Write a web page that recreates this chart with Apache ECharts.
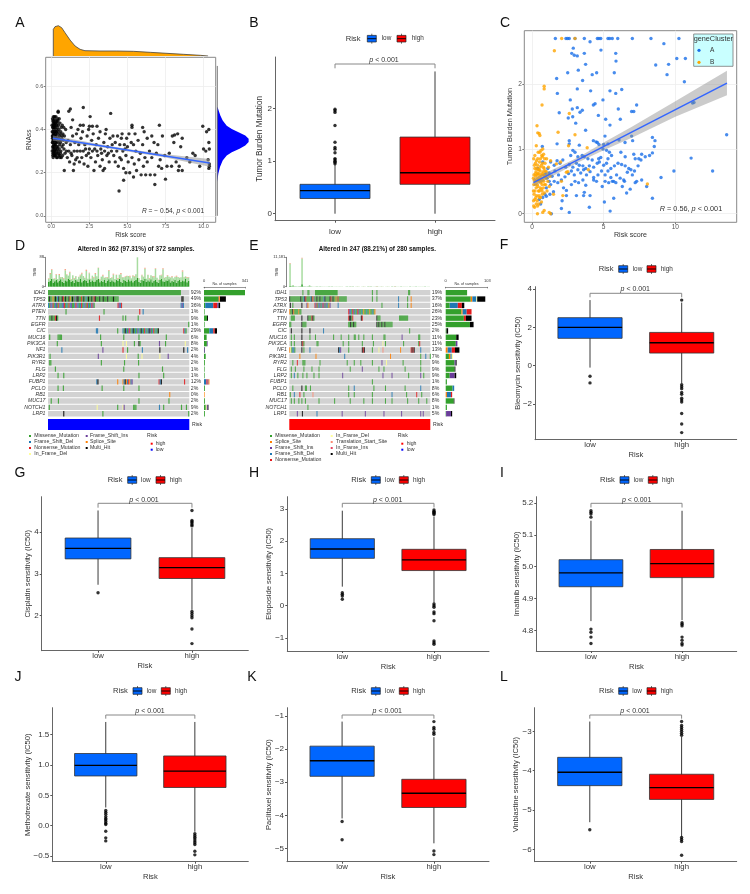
<!DOCTYPE html>
<html><head><meta charset="utf-8">
<style>html,body{margin:0;padding:0;background:#fff}#c{width:750px;height:894px}</style>
<script src="https://cdn.jsdelivr.net/npm/echarts@6/dist/echarts.min.js"></script>
</head><body><div id="c"></div>
<script>
/* ---------- DATA ---------- */
const riskGroups=['low','high'];
const pLabel='{i|p} < 0.001';

// boxplots: [whisker low, Q1, median, Q3, whisker high]
const tmbLow=[0,0.29,0.44,0.56,0.93], tmbHigh=[0,0.56,0.78,1.46,2.71];
const tmbOutLow=[0.95,0.98,1.0,1.03,1.05,1.16,1.23,1.26,1.36,1.68,1.93,1.96,1.99], tmbOutHigh=[];
const bleoLow=[-0.1,1.43,2.0,2.51,3.43], bleoHigh=[-0.92,0.66,1.2,1.74,3.3];
const bleoOutLow=[-0.55,-0.9], bleoOutHigh=[3.43,-1.0,-1.1,-1.2,-1.4,-1.5,-1.7,-1.8,-1.9,-2.5,-3.05,-3.5];
const cispLow=[2.74,3.36,3.61,3.86,4.52], cispHigh=[2.14,2.89,3.15,3.39,4.1];
const cispOutLow=[2.55], cispOutHigh=[4.52,4.28,4.25,4.22,4.18,4.15,2.1,2.05,2.0,1.95,1.68,1.33];
const etopLow=[0.59,1.47,1.76,2.08,2.95], etopHigh=[0.09,1.09,1.42,1.75,2.77];
const etopOutLow=[0.4,0.35,0.3,0.2], etopOutHigh=[2.97,2.93,2.9,2.87,2.83,0.05,0,-0.05,-0.2,-0.25,-0.47,-1.1,-1.15,-1.2];
const imatLow=[4.83,4.9375,4.981,5.022,5.144], imatHigh=[4.833,4.966,5.01,5.054,5.175];
const imatOutLow=[5.175,5.17,5.165,5.155,4.805,4.795,4.78,4.76], imatOutHigh=[4.825,4.82,4.815,4.78,4.77,4.76,4.755];
const metoLow=[0.30,0.82,0.995,1.19,1.71], metoHigh=[-0.1,0.63,0.9,1.15,1.71];
const metoOutLow=[0.25,0.22,0.19,0.15,0.12,0.1,0.07,0.04,0.02,-0.09,-0.2,-0.25], metoOutHigh=[-0.13,-0.16,-0.19,-0.22,-0.25,-0.28,-0.31,-0.42,-0.48];
const paclLow=[-4.09,-2.82,-2.35,-1.91,-1.17], paclHigh=[-4.84,-3.76,-3.33,-2.91,-1.64];
const paclOutLow=[-4.18,-4.73], paclOutHigh=[-1.17,-1.35,-1.4,-1.5,-1.55,-5.07,-5.18];
const vinbLow=[-5.31,-4.38,-4.04,-3.66,-2.75], vinbHigh=[-5.68,-4.73,-4.43,-4.09,-3.14];
const vinbOutLow=[-5.5], vinbOutHigh=[-2.75,-2.85,-2.9,-2.95,-3.0,-3.05,-3.1,-5.7,-5.75,-5.8,-6.15];

// panel A
const rnaTopDensity=[[0.13,0],[0.13,.8],[0.24,.88],[0.46,.91],[0.68,.85],[0.9,.70],[1.23,.48],[1.56,.30],[1.89,.20],[2.21,.16],[3.2,.15],[4.3,.15],[5.4,.14],[6.5,.11],[7.6,.08],[8.7,.05],[9.8,.02],[10.3,0]];
const rnaSideDensity=[[0,.503],[.01,.503],[.04,.488],[.09,.465],[.16,.442],[.28,.418],[.43,.403],[.63,.388],[.83,.372],[.93,.357],[.93,.342],[.83,.326],[.66,.311],[.43,.295],[.28,.28],[.16,.257],[.08,.226],[.03,.195],[0,.157]];
const rnaFit=[[0.1,0.36],[10.4,0.245]];
const rnaBand=[[0.1,0.372],[3,0.334],[5,0.31],[7.5,0.285],[10.4,0.263],[10.4,0.227],[7.5,0.27],[5,0.298],[3,0.322],[0.1,0.348]];
const rnaPoints=[
[0.08,0.36],[0.12,0.41],[0.15,0.33],[0.1,0.44],[0.18,0.38],[0.22,0.3],[0.09,0.28],[0.14,0.46],[0.25,0.42],[0.3,0.35],[0.06,0.39],[0.11,0.31],[0.2,0.45],[0.27,0.28],[0.33,0.4],[0.16,0.29],[0.07,0.34],[0.24,0.37],[0.13,0.43],[0.35,0.32],
[0.19,0.41],[0.28,0.44],[0.1,0.37],[0.4,0.38],[0.05,0.42],[0.17,0.35],[0.31,0.3],[0.23,0.33],[0.38,0.43],[0.12,0.27],[0.42,0.34],[0.26,0.39],[0.09,0.32],[0.34,0.27],[0.21,0.46],[0.15,0.4],[0.45,0.29],[0.37,0.36],[0.08,0.45],[0.29,0.31],
[0.14,0.36],[0.5,0.4],[0.18,0.28],[0.44,0.44],[0.11,0.39],[0.32,0.37],[0.25,0.34],[0.52,0.31],[0.16,0.44],[0.06,0.3],[0.39,0.41],[0.2,0.32],[0.48,0.36],[0.13,0.38],[0.27,0.43],[0.55,0.28],[0.1,0.34],[0.36,0.29],[0.23,0.41],[0.58,0.38],
[0.17,0.42],[0.43,0.32],[0.3,0.46],[0.07,0.37],[0.6,0.34],[0.22,0.36],[0.47,0.42],[0.12,0.35],[0.34,0.39],[0.63,0.3],[0.19,0.31],[0.53,0.37],[0.26,0.28],[0.41,0.45],[0.65,0.41],[0.15,0.3],[0.57,0.43],[0.09,0.41],[0.68,0.36],[0.28,0.33],
[0.46,0.3],[0.7,0.32],[0.33,0.42],[0.62,0.39],[0.21,0.39],[0.74,0.28],[0.5,0.35],[0.38,0.31],[0.76,0.38],[0.14,0.42],[0.55,0.33],[0.8,0.35],[0.29,0.38],[0.66,0.27],[0.44,0.39],[0.83,0.31],[0.24,0.29],[0.72,0.42],[0.6,0.29],[0.86,0.37],
[0.16,0.37],[0.4,0.27],[0.52,0.45],[0.78,0.33],[0.9,0.29],[0.31,0.34],[0.11,0.29],[0.64,0.35],[0.94,0.4],[0.48,0.28],[0.2,0.43],[0.7,0.37],[0.36,0.44],[0.98,0.34],[0.13,0.32],[0.57,0.27],[0.82,0.41],[0.27,0.36],[1.0,0.3],[0.45,0.48],
[0.45,0.485],[1.25,0.495],[1.15,0.485],[2.1,0.502],[2.55,0.46],[3.9,0.475],[1.4,0.445],[7.1,0.42],[6.0,0.41],[5.3,0.42],[5.3,0.41],[3.0,0.415],[2.5,0.415],[2.7,0.415],[2.1,0.42],[1.9,0.42],[9.95,0.415],[10.35,0.4],[10.2,0.39],[8.3,0.38],[7.95,0.37],[8.1,0.375],[8.6,0.36],[4.45,0.115],[6.8,0.145],[4.75,0.165],[7.5,0.17],[5.4,0.18],
[0.85,0.21],[1.45,0.21],[1.05,0.27],[1.2,0.25],[1.35,0.28],[1.5,0.24],[1.6,0.26],[1.7,0.3],[1.85,0.25],[2.0,0.27],[2.15,0.24],[2.3,0.28],[2.4,0.23],[2.6,0.27],[2.8,0.21],[2.9,0.25],[3.05,0.28],[3.2,0.23],[3.35,0.26],[3.5,0.22],[3.65,0.28],[3.8,0.25],[3.4,0.21],
[1.1,0.35],[1.25,0.33],[1.4,0.37],[1.55,0.34],[1.65,0.38],[1.8,0.33],[1.95,0.36],[2.05,0.39],[2.2,0.33],[2.35,0.37],[2.5,0.31],[2.65,0.35],[2.75,0.38],[2.95,0.33],[3.1,0.36],[3.25,0.31],[3.45,0.34],[3.55,0.38],[3.7,0.32],[3.85,0.36],[4.0,0.33],[3.6,0.4],[3.2,0.39],[2.45,0.4],[1.75,0.4],[1.3,0.41],
[1.15,0.3],[1.3,0.29],[1.5,0.3],[1.7,0.27],[1.9,0.3],[2.1,0.3],[2.25,0.31],[2.45,0.29],[2.7,0.3],[2.85,0.31],[3.0,0.3],[3.3,0.29],[3.5,0.3],[3.75,0.29],[3.95,0.3],[4.1,0.28],[4.3,0.3],[4.5,0.27],[4.7,0.3],[4.9,0.28],
[4.05,0.37],[4.2,0.34],[4.35,0.37],[4.5,0.33],[4.65,0.38],[4.8,0.33],[4.95,0.36],[5.1,0.38],[5.25,0.34],[4.6,0.36],[4.85,0.31],[5.0,0.32],[4.2,0.25],[4.4,0.23],[4.6,0.26],[4.75,0.22],[4.9,0.2],[5.05,0.25],[5.15,0.2],[5.3,0.27],[5.45,0.24],[5.6,0.21],[5.75,0.26],[5.9,0.19],[6.05,0.23],[6.2,0.19],
[5.4,0.33],[5.55,0.3],[5.7,0.35],[5.85,0.29],[6.0,0.33],[6.15,0.27],[6.3,0.36],[6.45,0.3],[6.6,0.27],[6.75,0.34],[6.9,0.29],[7.0,0.33],[7.15,0.26],[7.3,0.37],[7.45,0.28],[7.6,0.23],[7.75,0.29],[7.9,0.23],[8.05,0.34],[8.2,0.25],[8.35,0.21],[8.5,0.32],[8.6,0.21],[6.3,0.25],[6.5,0.19],[6.8,0.19],[7.05,0.23],[7.25,0.22],[6.1,0.39],[6.6,0.37],[5.5,0.38],
[8.9,0.27],[9.1,0.25],[9.3,0.29],[9.45,0.28],[9.75,0.23],[10.0,0.31],[10.15,0.3],[10.35,0.34],[10.38,0.31],[10.3,0.26],[10.38,0.24],[10.38,0.23],[10.35,0.22],[8.4,0.23]
];

// panel C
const tmbFit=[[0.1,0.48],[13.6,2.02]];
const tmbBand=[[0.1,0.54],[2,0.74],[3.2,0.87],[5,1.1],[7,1.35],[10,1.74],[13.6,2.21],[13.6,1.83],[10,1.5],[7,1.18],[5,0.98],[3.2,0.79],[2,0.65],[0.1,0.42]];
const clusterA=[
[1.63,2.71],[2.37,2.71],[2.49,2.71],[2.6,2.71],[3.0,2.71],[3.65,2.71],[4.56,2.71],[4.67,2.71],[4.8,2.71],[5.3,2.71],[5.42,2.71],[5.6,2.71],[5.98,2.71],[7.0,2.71],[8.3,2.71],[10.25,2.71],
[4.05,2.66],[9.2,2.63],[2.88,2.56],[4.81,2.53],[2.77,2.48],[3.65,2.48],[5.84,2.48],[2.95,2.45],[3.16,2.44],[5.86,2.36],[3.74,2.31],[8.63,2.3],[9.53,2.31],[10.1,2.4],[10.7,2.4],[3.23,2.22],[2.49,2.18],[5.74,2.18],[4.51,2.18],[4.2,2.15],[9.42,2.15],[1.72,2.09],[3.53,2.06],[10.63,2.04],[3.16,1.93],[6.26,1.92],[5.44,1.9],[4.09,1.9],[5.84,1.86],[1.77,1.86],[2.67,1.76],[4.95,1.76],[4.4,1.7],[4.28,1.68],[7.3,1.68],[11.2,1.71],[11.3,1.72],[2.81,1.62],[3.16,1.64],[3.51,1.6],[3.35,1.57],[6.02,1.62],[1.9,1.56],[6.95,1.58],[7.1,1.58],[2.53,1.48],[2.84,1.5],[4.63,1.52],[5.14,1.46],[6.16,1.46],[3.05,1.4],[5.44,1.37],[3.74,1.29],[5.09,1.2],[6.95,1.2],[8.4,1.18],[13.58,1.22],[2.6,1.13],[4.28,1.13],[4.47,1.11],[4.56,1.1],[4.67,1.07],[6.07,1.14],[6.49,1.1],[7.02,1.13],[8.58,1.13],[3.3,1.06],[0.72,1.04],[8.53,1.04],[8.4,0.94],
[1.75,1.08],[2.6,1.08],[5.0,1.07],[5.3,1.08],[2.7,0.9],[2.85,0.98],[3.0,0.95],[3.2,0.88],[3.5,0.9],[3.65,0.88],[3.9,0.85],[4.2,0.83],[4.65,0.85],[4.8,0.87],[4.95,1.0],[5.2,0.98],[5.4,0.95],[5.55,0.9],[5.3,0.85],[6.2,0.95],[6.5,0.88],[7.1,0.92],[7.2,0.85],[7.45,0.85],[7.65,0.92],[7.6,0.83],[7.9,0.88],[8.2,0.9],[11.1,0.86],
[1.1,0.7],[1.3,0.8],[1.55,0.75],[1.75,0.82],[1.95,0.78],[2.15,0.83],[2.35,0.72],[2.6,0.76],[2.85,0.72],[3.1,0.78],[3.3,0.75],[3.55,0.74],[3.75,0.7],[4.0,0.74],[4.3,0.72],[4.55,0.78],[4.7,0.8],[5.0,0.75],[5.2,0.78],[5.5,0.7],[5.75,0.74],[6.0,0.78],[6.25,0.76],[6.5,0.74],[6.75,0.7],[6.9,0.68],[7.15,0.66],[7.4,0.74],
[1.2,0.63],[1.4,0.58],[1.6,0.66],[1.85,0.6],[2.05,0.52],[2.3,0.57],[2.55,0.62],[2.75,0.66],[2.95,0.6],[3.2,0.68],[3.4,0.63],[3.6,0.68],[3.8,0.6],[4.05,0.65],[4.3,0.56],[4.6,0.6],[4.85,0.66],[5.1,0.6],[5.3,0.66],[5.5,0.56],[5.7,0.5],[5.9,0.6],[6.15,0.55],[6.4,0.52],[6.65,0.64],[7.0,0.6],[7.3,0.5],[7.65,0.52],[9.9,0.66],[12.6,0.66],[9.0,0.56],[8.0,0.42],
[1.05,0.55],[1.3,0.45],[1.55,0.5],[1.8,0.48],[2.2,0.4],[2.4,0.36],[2.75,0.45],[3.0,0.5],[3.25,0.48],[3.55,0.52],[3.75,0.44],[4.3,0.52],[4.5,0.5],[4.9,0.42],[5.1,0.5],[5.35,0.48],[5.6,0.5],[5.85,0.48],[6.3,0.42],[6.45,0.5],[6.6,0.32],[6.85,0.38],[7.2,0.48],
[1.25,0.3],[1.0,0.27],[1.5,0.34],[2.1,0.2],[2.4,0.28],[3.1,0.28],[3.6,0.28],[3.65,0.33],[4.05,0.28],[5.7,0.24],[8.4,0.24],[5.05,0.18],[2.05,0.08],[2.6,0.02],[4.0,0.1],[5.45,0.04],[1.35,0.0],[0.6,0.15],[0.9,0.3],[0.75,0.25],[0.5,0.22],[1.2,0.5],[0.95,0.62],[1.0,0.4],[0.75,0.8],[0.4,0.7]
];
const clusterB=[
[2.07,2.71],[3.0,2.71],[1.56,2.52],[0.85,1.97],[0.85,1.93],[0.7,1.68],[0.35,1.36],[0.4,1.25],[0.5,1.24],[0.55,1.21],[1.82,1.26],[2.6,1.55],[3.0,1.22],[2.55,1.05],[0.3,1.05],[3.85,1.02],[8.05,0.46],[3.93,0.68],[2.5,0.65],[1.7,0.77],[2.0,0.8],[2.05,0.5],[2.15,0.28],[1.5,0.3],[1.2,0.02],[1.3,0.0],[0.38,0.0],[0.85,0.05],[0.75,0.02],[2.4,0.64],
[0.1,0.55],[0.15,0.3],[0.2,0.7],[0.25,0.45],[0.3,0.15],[0.35,0.6],[0.4,0.85],[0.45,0.35],[0.5,0.5],[0.55,0.95],[0.6,0.25],[0.65,0.75],[0.7,0.45],[0.75,1.0],[0.12,0.85],[0.18,0.1],[0.22,0.5],[0.28,0.65],[0.33,0.28],[0.38,0.75],[0.42,0.55],[0.48,0.15],[0.52,0.8],[0.58,0.4],[0.62,0.6],[0.68,0.9],[0.72,0.3],[0.78,0.65],[0.82,0.5],[0.88,0.85],
[0.1,0.35],[0.14,0.6],[0.19,0.22],[0.24,0.78],[0.29,0.4],[0.34,0.5],[0.39,0.12],[0.44,0.68],[0.49,0.28],[0.54,0.58],[0.59,0.85],[0.64,0.38],[0.69,0.55],[0.74,0.78],[0.79,0.4],[0.84,0.7],[0.9,0.58],[0.95,0.45],[1.0,0.65],[1.05,0.35],[1.1,0.5],[1.15,0.72],[1.2,0.42],[1.25,0.58],[1.3,0.82],[0.13,0.45],[0.17,0.75],[0.21,0.35],[0.26,0.58],[0.31,0.82],
[0.36,0.2],[0.41,0.42],[0.46,0.62],[0.51,0.35],[0.56,0.72],[0.61,0.48],[0.66,0.18],[0.71,0.62],[0.76,0.52],[0.81,0.92],[0.86,0.32],[0.91,0.78],[0.96,0.55],[1.02,0.85],[0.11,0.2],[0.16,0.52],[0.2,0.9],[0.27,0.25],[0.32,0.7],[0.37,0.45],[0.43,0.95],[0.47,0.52],[0.53,0.25],[0.57,0.66],[0.63,0.98],[0.67,0.5],[0.73,0.88],[0.77,0.6],[0.83,0.6],[0.87,0.45],[0.12,0.12],[0.23,0.62],[0.3,0.52],[0.4,0.62],[0.5,0.68],[0.6,0.53],[0.7,0.35],[0.8,0.72],[0.92,0.66],[1.08,0.6]
];

// oncoplots: rows
const genesD=['IDH1','TP53','ATRX','PTEN','TTN','EGFR','CIC','MUC16','PIK3CA','NF1','PIK3R1','RYR2','FLG','LRP2','FUBP1','PCLO','RB1','MUC17','NOTCH1','LRP1'];
const pctD=['92%','49%','36%','1%','9%','1%','29%','6%','8%','2%','4%','2%','1%','1%','12%','2%','0%','2%','9%','2%'];
const genesE=['IDH1','TP53','ATRX','PTEN','TTN','EGFR','CIC','MUC16','PIK3CA','NF1','PIK3R1','RYR2','FLG','LRP2','FUBP1','PCLO','RB1','MUC17','NOTCH1','LRP1'];
const pctE=['19%','37%','16%','26%','23%','25%','2%','11%','11%','13%','7%','9%','9%','9%','1%','8%','6%','8%','1%','5%'];
const mutationTypes={M:'#33a02c',F:'#1f78b4',N:'#e31a1c',I:'#ffff99',P:'#6a3d9a',S:'#ff7f00',K:'#000000',T:'#fb8a72',R:'#e7435e'};
// [row, first sample, mutation string: one letter per stripe]
const mutD=[
[1,0,'MKMMSMKMFKMMKNMKMMKSMKMPMKKMMNMKMFMKMMKMNKMMMKMMKMMMKMMMMKMMMM'],[1,351,'KK'],
[2,0,'FMPFNMFPMNFMFPNMFMNFPMMFNPFMFNMFPMNFMFNPM'],[2,183,'NPFN'],[2,349,'FPF'],
[3,46,'M'],[3,146,'M'],[3,240,'N'],[3,249,'F'],
[4,3,'MMKMMNKM'],[4,134,'N'],[4,196,'M'],[4,203,'M'],[4,236,'M'],
[5,369,'M'],
[6,126,'FF'],[6,182,'M'],[6,196,'FMKFMPNMFKMFMPFMKFMNFMFKPMFNMFMK'],[6,356,'NFM'],
[7,3,'M'],[7,25,'MMMM'],[7,137,'M'],[7,198,'M'],[7,238,'M'],[7,310,'M'],
[8,23,'M'],[8,139,'M'],[8,196,'I'],[8,205,'I'],[8,226,'M'],[8,238,'KM'],[8,292,'P'],[8,308,'M'],[8,360,'I'],
[9,35,'F'],[9,143,'P'],[9,196,'N'],[9,208,'M'],[9,247,'F'],[9,293,'K'],[9,356,'K'],[9,366,'F'],
[10,4,'M'],[10,131,'P'],[10,205,'I'],[10,236,'M'],[10,246,'I'],[10,293,'I'],[10,315,'P'],
[11,3,'MM'],[11,139,'M'],[11,200,'M'],[11,237,'M'],
[12,18,'M'],[12,198,'M'],[12,300,'M'],
[13,25,'M'],[13,40,'M'],[13,238,'M'],[13,303,'M'],
[14,127,'FK'],[14,182,'S'],[14,196,'SFKSFNSFP'],[14,291,'NFK'],[14,358,'N'],
[15,25,'M'],[15,39,'M'],[15,141,'M'],[15,198,'M'],[15,238,'M'],
[16,319,'S'],
[17,7,'M'],[17,26,'M'],[17,238,'M'],[17,317,'M'],
[18,2,'M'],[18,128,'I'],[18,182,'M'],[18,196,'IP'],[18,224,'MMM'],[18,292,'F'],[18,303,'M'],[18,350,'M'],[18,363,'M'],
[19,40,'K'],[19,143,'M'],[19,369,'M']
];
const spanD=[[0,0,350,'M']];
const mutE=[
[0,26,'M'],[0,36,'MM'],[0,164,'M'],[0,173,'M'],[0,236,'MM'],
[1,0,'KMMMMMMMMMMKMMFKNMMMMFKSPMMKMMKMMMFKMMMMKNMKMMSMNMMMMMMMM'],[1,164,'M'],[1,173,'M'],[1,216,'F'],[1,234,'M'],[1,241,'S'],
[2,1,'K'],[2,6,'M'],[2,24,'K'],[2,34,'PS'],[2,50,'NFNMFPMFNPMPFMSP'],[2,96,'F'],[2,183,'M'],[2,216,'F'],[2,234,'M'],[2,241,'S'],
[3,0,'SMMKSMMMMSMM'],[3,117,'NPFMNPMFMNPMMFMSMMFMMSMMFMS'],
[4,3,'MMMM'],[4,24,'K'],[4,36,'KMMMNKM'],[4,117,'NKKMN'],[4,142,'KN'],[4,173,'KMMM'],[4,218,'MMMMMMMMM'],
[5,0,'MM'],[5,24,'K'],[5,26,'MMMM'],[5,117,'MMKMMKMM'],[5,173,'KMKMMKMMKMMMMMMM'],
[6,3,'K'],[6,24,'K'],[6,40,'K'],[6,67,'F'],[6,238,'M'],
[7,3,'M'],[7,9,'M'],[7,24,'K'],[7,40,'M'],[7,51,'M'],[7,87,'M'],[7,102,'M'],[7,117,'M'],[7,128,'MM'],[7,137,'M'],[7,147,'M'],[7,164,'M'],[7,187,'MM'],[7,223,'P'],[7,256,'MM'],
[8,3,'M'],[8,9,'M'],[8,24,'KNM'],[8,54,'MM'],[8,106,'M'],[8,117,'M'],[8,144,'M'],[8,166,'M'],[8,185,'I'],[8,190,'M'],[8,226,'M'],[8,256,'MN'],
[9,0,'SIMFFM'],[9,24,'K'],[9,28,'M'],[9,40,'F'],[9,97,'KFP'],[9,117,'M'],[9,144,'KNK'],[9,164,'M'],[9,177,'I'],[9,185,'T'],[9,220,'S'],[9,241,'NKNK'],[9,260,'F'],
[10,20,'S'],[10,52,'S'],[10,109,'F'],[10,200,'S'],[10,260,'M'],[10,270,'F'],[10,279,'M'],
[11,6,'M'],[11,15,'N'],[11,26,'MMM'],[11,60,'M'],[11,114,'M'],[11,128,'M'],[11,141,'M'],[11,164,'M'],[11,183,'P'],[11,192,'I'],[11,225,'M'],[11,260,'M'],
[12,3,'M'],[12,11,'M'],[12,28,'M'],[12,44,'M'],[12,58,'M'],[12,120,'M'],[12,144,'P'],[12,177,'M'],[12,187,'M'],[12,229,'M'],[12,260,'M'],
[13,3,'M'],[13,9,'F'],[13,16,'M'],[13,26,'M'],[13,34,'M'],[13,48,'M'],[13,58,'M'],[13,105,'P'],[13,185,'P'],[13,203,'P'],[13,236,'M'],[13,260,'P'],[13,266,'M'],
[14,164,'M'],
[15,6,'M'],[15,24,'K'],[15,31,'MM'],[15,41,'M'],[15,117,'M'],[15,128,'F'],[15,167,'M'],[15,190,'M'],[15,229,'M'],[15,260,'F'],
[16,1,'M'],[16,9,'F'],[16,20,'N'],[16,28,'M'],[16,46,'T'],[16,117,'M'],[16,128,'M'],[16,164,'M'],[16,203,'F'],[16,232,'M'],[16,252,'N'],[16,262,'M'],
[17,3,'M'],[17,9,'M'],[17,18,'M'],[17,24,'M'],[17,31,'M'],[17,58,'M'],[17,89,'M'],[17,120,'M'],[17,147,'M'],[17,164,'M'],[17,190,'M'],[17,203,'M'],[17,234,'M'],[17,256,'M'],[17,272,'M'],
[18,36,'M'],
[19,15,'P'],[19,25,'K'],[19,54,'F'],[19,104,'P'],[19,150,'P'],[19,187,'P'],[19,222,'P'],[19,260,'P'],[19,265,'P']
];
const spanE=[[0,51,96,'M']];
// side bars: [row, type, count, type, count ...]
const sideD=[[0,'M',341],[1,'M',122,'N',5,'S',6,'K',49],[2,'M',10,'F',67,'N',33,'P',11,'K',13],[3,'M',3],[4,'M',25,'K',8],[5,'M',3],[6,'M',44,'F',33,'N',13,'K',18],[7,'M',22],[8,'M',24,'P',6],[9,'M',2,'P',6],[10,'M',14],[11,'M',7],[12,'M',5],[13,'M',4],[14,'F',20,'N',10,'P',8,'S',7],[15,'M',7],[16,'S',1],[17,'M',7],[18,'M',15,'I',8,'P',9,'K',3],[19,'M',7]];
const sideE=[[0,'M',53],[1,'M',62,'S',4,'F',10,'I',2,'K',20],[2,'M',10,'F',20,'N',10,'K',6],[3,'M',39,'S',3,'F',10,'N',12],[4,'M',45,'N',5,'K',14],[5,'M',60,'K',9],[6,'M',2,'K',4],[7,'M',26,'K',6],[8,'M',25,'P',4],[9,'S',5,'F',10,'N',8,'K',11],[10,'M',8,'S',4,'F',3,'I',3],[11,'M',22,'P',3,'K',2],[12,'M',22,'K',2],[13,'M',10,'P',12,'K',4],[14,'M',3],[15,'M',17,'F',4],[16,'S',3,'F',10,'N',3],[17,'M',20,'K',1],[18,'M',3],[19,'M',1,'P',12,'K',3]];
// mutation burden columns
const tmbBaseD=[14,18,24,12,16,20,13,17,22,15,11,19,16,23,20,14,18,12,21,16,15,24,13,18,20,17,12,22,15,19,14,16,21,24,13,18,15,20,12,17,22,14,19,16,13,21,18,24,15,12,20,17,14,22,16,19,13,18,21,26,15,12,20,17,24,14,19,16,22,13,18,21,15,12,20,24,16,14,19,17,22,13,18,15,21,12,17,20,14,19,16,23,13,18];
const tmbTopD=[10,20,26,12,8,16,10,18,6,14,12,30,20,10,22,8,16,12,10,6,14,10,26,14,6,30,12,18,8,14,12,22,10,32,8,12,18,6,16,10,26,12,8,20,10,14,6,12,22,16,8,12,18,10,14,6,20,12,16,62,10,8,14,12,30,10,16,8,12,18,10,32,12,8,14,10,36,12,10,16,8,14,12,10,8,18,12,6,14,26,12,8,14,10];
const tmbTipD=[1,3,2,0,1,2,0,3,1,0,2,4,1,0,3,1,0,2,1,0,1,2,3,0,1,4,0,2,1,0,2,3,0,1,1,0,3,1,0,2,2,0,1,3,0,1,2,0,4,1,0,2,1,0,3,0,1,2,0,0,1,0,2,1,3,0,1,2,0,1,3,2,0,1,0,2,3,1,0,2,0,1,2,0,1,3,0,1,0,4,1,0,2,1];
const tmbBaseE=[400,120,160,80,60,40,60,90,900,80,60,40,30,140,50,30,20,40,30,20,30,40,20,30,20,30,40,20,30,20,10,30,20,40,20,30,10,20,30,20,40,20,30,10,20,30,20,10,20,30,20,10,30,20,40,20,10,20,30,20,10,30,20,10,20,30,20,10,30,20,40,20,10,20,30,10,20,30,20,10,30,20,10,20,30,10,20,30,10,20,30,10,20,30];
const tmbTopE=[8300,200,500,60,40,30,50,120,9800,60,30,30,20,420,30,20,10,20,20,30,20,10,40,20,30,10,20,40,20,10,20,30,10,20,60,20,10,30,20,10,30,50,20,10,30,60,20,10,30,60,20,10,40,70,30,10,20,50,60,30,20,60,40,10,30,50,30,10,40,20,60,30,20,10,30,40,20,10,30,20,40,10,20,30,10,40,20,10,30,20,10,30,20,10];
const tmbTipE=[300,0,0,0,0,0,0,0,280,0,0,0,0,0,0,0,0,0,0,0,0,0,0,0,0,0,0,0,0,0,0,0,0,0,20,0,0,0,0,0,0,30,0,0,0,40,0,0,0,40,0,0,0,40,0,0,0,30,40,0,0,40,20,0,0,30,0,0,20,0,30,0,0,0,0,20,0,0,0,0,20,0,0,0,0,0,0,0,0,0,0,0,0,0];

/* ---------- LAYOUT HELPERS ---------- */
const FONT='"Liberation Sans",Arial,sans-serif', INK='#333', BLUE='#0066ff', RED='#ff0000';
const grids=[],xAxes=[],yAxes=[],series=[],gfx=[];
function addGrid(b,xa,ya,extra){const i=grids.length;
 grids.push(Object.assign({left:b[0],top:b[2],width:b[1]-b[0],height:b[3]-b[2],outerBoundsMode:'none',containLabel:false},extra||{}));
 xAxes.push(Object.assign({gridIndex:i},xa));yAxes.push(Object.assign({gridIndex:i},ya));return i;}
const hidden=(o)=>Object.assign({type:'value',show:false},o);
function text(x,y,t,o){gfx.push({type:'text',x,y,silent:true,z:50,style:Object.assign({text:t,fill:INK,font:'9px '+FONT,align:'left',verticalAlign:'middle'},o||{})});}
const richI=(f,col)=>({fontStyle:'italic',font:'italic '+f+'px '+FONT,fill:col||INK});
'ABCDEFGHIJKL'.split('').forEach((l,i)=>{const pos=[[20,23],[254,23],[505,23],[20,246],[254,246],[504,245],[20,473],[254,473],[502,473],[18,677],[252,677],[504,677]][i];
 text(pos[0],pos[1],l,{font:'14px '+FONT,fill:'#111',align:'center'});});

/* ---------- BOX PANELS ---------- */
function boxRender(params,api){
 const x=api.value(0),wl=api.value(1),q1=api.value(2),m=api.value(3),q3=api.value(4),wh=api.value(5);
 const c=(a,b)=>api.coord([a,b]);
 const L=c(x-0.35,q3),R=c(x+0.35,q1),M=c(x,m),tl=c(x,wh),bl=c(x,wl);
 const fill=x===1?BLUE:RED;
 return {type:'group',children:[
  {type:'line',shape:{x1:tl[0],y1:tl[1],x2:bl[0],y2:bl[1]},style:{stroke:'#3a3a3a',lineWidth:1}},
  {type:'rect',shape:{x:L[0],y:L[1],width:R[0]-L[0],height:R[1]-L[1]},style:{fill,stroke:'#333',lineWidth:0.8}},
  {type:'line',shape:{x1:L[0],y1:M[1],x2:R[0],y2:M[1]},style:{stroke:'#000',lineWidth:1.3}}
 ]};
}
const boxPanels=[
 {box:[275,495,57,220.7],range:[-0.133,2.985],ticks:[0,1,2],dec:0,yName:'Tumor Burden Mutation',gap:15,nf:8.2,low:tmbLow,high:tmbHigh,oL:tmbOutLow,oH:tmbOutHigh,br:[64,68.3],lab:[384,60],leg:[38.7,345.7,367.3,381.7,397,411.7],xName:false,lm:7,fs:8},
 {box:[535,736.7,286.7,439.7],range:[-3.87,4.13],ticks:[-2,0,2,4],dec:0,yName:'Bleomycin sensitivity (IC50)',gap:16.7,low:bleoLow,high:bleoHigh,oL:bleoOutLow,oH:bleoOutHigh,br:[293.3,297.3],lab:[635.3,289.3],leg:[269,598.7,618.7,632.7,647,660.7]},
 {box:[41.7,248.3,496.7,650.7],range:[1.16,4.85],ticks:[2,3,4],dec:0,yName:'Cisplatin sensitivity (IC50)',gap:14,low:cispLow,high:cispHigh,oL:cispOutLow,oH:cispOutHigh,br:[503.3,507.7],lab:[144,500],leg:[480,107.7,127.7,141,156,169.7]},
 {box:[287.3,489,496.7,651],range:[-1.41,3.385],ticks:[-1,0,1,2,3],dec:0,yName:'Etoposide sensitivity (IC50)',gap:18,low:etopLow,high:etopHigh,oL:etopOutLow,oH:etopOutHigh,br:[503.3,507.5],lab:[387.7,500],leg:[480,351.3,371.3,385,399.3,413]},
 {box:[536.3,736.7,496.7,651],range:[4.7366,5.219],ticks:[4.8,4.9,5.0,5.1,5.2],dec:1,yName:'Imatinib sensitivity (IC50)',gap:19.6,low:imatLow,high:imatHigh,oL:imatOutLow,oH:imatOutHigh,br:[503.3,507.5],lab:[636.7,500],leg:[480,600,620,633.7,648.3,662]},
 {box:[52.3,248.3,707.7,861.7],range:[-0.593,1.945],ticks:[-0.5,0,0.5,1,1.5],dec:1,yName:'Methotrexate sensitivity (IC50)',gap:24.6,low:metoLow,high:metoHigh,oL:metoOutLow,oH:metoOutHigh,br:[715,718.7],lab:[150,711],leg:[691,113,133,146.7,161.3,175]},
 {box:[287,489,707.7,861.7],range:[-5.394,-0.751],ticks:[-5,-4,-3,-2,-1],dec:0,yName:'Paclitaxel sensitivity (IC50)',gap:18,low:paclLow,high:paclHigh,oL:paclOutLow,oH:paclOutHigh,br:[715,718.7],lab:[387.3,711],leg:[691,351.3,371.3,385,399.3,413]},
 {box:[534.7,736.7,707.7,861.7],range:[-6.314,-2.398],ticks:[-6,-5,-4,-3],dec:0,yName:'Vinblastine sensitivity (IC50)',gap:18.7,low:vinbLow,high:vinbHigh,oL:vinbOutLow,oH:vinbOutHigh,br:[715,718.7],lab:[635,711],leg:[691,599,618.7,632.3,647,660.7]}
];
const axisLine={show:true,onZero:false,lineStyle:{color:'#666',width:1}};
boxPanels.forEach(p=>{
 const [bl,br,bt,bb]=p.box,[ymin,ymax]=p.range;
 const toV=y=>ymin+(bb-y)/(bb-bt)*(ymax-ymin);
 const nf=p.nf||7.6;
 const i=addGrid(p.box,
  {type:'value',min:0.4,max:2.6,splitLine:{show:false},axisLine,
   axisTick:{show:true,customValues:[1,2],length:2,lineStyle:{color:'#555'}},
   axisLabel:{customValues:[1,2],formatter:v=>riskGroups[Math.round(v)-1],color:INK,fontFamily:FONT,fontSize:p.fs||7.8,margin:p.lm||1.5},
   name:p.xName===false?'':'Risk',nameMoveOverlap:false,nameLocation:'middle',nameGap:11.5,nameTextStyle:{color:INK,fontFamily:FONT,fontSize:7.6}},
  {type:'value',min:ymin,max:ymax,splitLine:{show:false},axisLine,
   axisTick:{show:true,customValues:p.ticks,length:2,lineStyle:{color:'#555'}},
   axisLabel:{customValues:p.ticks,formatter:v=>(+v).toFixed(p.dec).replace('-','\u2212'),color:INK,fontFamily:FONT,fontSize:8,margin:3},
   name:p.yName,nameMoveOverlap:false,nameLocation:'middle',nameGap:p.gap-nf/2,nameRotate:90,nameTextStyle:{color:INK,fontFamily:FONT,fontSize:nf}});
 series.push({type:'custom',xAxisIndex:i,yAxisIndex:i,renderItem:boxRender,clip:false,encode:{x:0,y:[1,2,3,4,5]},data:[[1,...p.low],[2,...p.high]],silent:true});
 series.push({type:'scatter',xAxisIndex:i,yAxisIndex:i,symbolSize:3.4,itemStyle:{color:'#000'},silent:true,
  data:[...p.oL.map(v=>[1,v]),...p.oH.map(v=>[2,v])]});
 series.push({type:'line',xAxisIndex:i,yAxisIndex:i,showSymbol:false,silent:true,lineStyle:{color:'#888',width:1},
  data:[[1,toV(p.br[1])],[1,toV(p.br[0])],[2,toV(p.br[0])],[2,toV(p.br[1])]]});
 text(p.lab[0],p.lab[1],pLabel,{align:'center',font:'7px '+FONT,rich:{i:richI(7)}});
 const [ly,rx,k1,tx1,k2,tx2]=p.leg;
 text(rx,ly,'Risk',{font:'7.6px '+FONT});
 [[k1,BLUE,tx1,'low'],[k2,RED,tx2,'high']].forEach(([k,col,tx,lab])=>{
  gfx.push({type:'line',silent:true,z:50,shape:{x1:k+4.5,y1:ly-5,x2:k+4.5,y2:ly+5},style:{stroke:'#333',lineWidth:0.7}});
  gfx.push({type:'rect',silent:true,z:50,shape:{x:k,y:ly-3.3,width:9,height:6.6},style:{fill:col,stroke:'#222',lineWidth:0.7}});
  gfx.push({type:'line',silent:true,z:50,shape:{x1:k,y1:ly,x2:k+9,y2:ly},style:{stroke:'#000',lineWidth:0.9}});
  text(tx,ly,lab,{font:'6.4px '+FONT});
 });
});

/* ---------- SCATTER PANELS ---------- */
function bwAxis(min,max,ticks,dec,name,gap,fs,nfs,isY){return {type:'value',min,max,
 splitLine:{show:true,lineStyle:{color:'#eeeeee',width:0.8}},axisLine:{show:false,onZero:false},
 axisTick:{show:true,customValues:ticks,length:2,lineStyle:{color:'#777'}},
 axisLabel:{customValues:ticks,formatter:v=>(+v).toFixed(dec),color:'#555',fontFamily:FONT,fontSize:fs,margin:isY?2.5:1.5},
 name,nameMoveOverlap:false,nameLocation:'middle',nameGap:gap,nameRotate:isY?90:0,nameTextStyle:{color:INK,fontFamily:FONT,fontSize:nfs}};}
function polygonSeries(i,pts,fill,extra){
 return Object.assign({type:'custom',xAxisIndex:i,yAxisIndex:i,silent:true,clip:true,encode:{x:0,y:1},data:[pts[0]],
  renderItem:(params,api)=>({type:'polygon',shape:{points:pts.map(p=>api.coord(p))},style:{fill,stroke:'none'}})},extra||{});
}
const boxA=[45.7,215.7,57.3,222.3],rangeAx=[-0.37,10.8],rangeAy=[-0.03,0.735];
const gA=addGrid(boxA,bwAxis(rangeAx[0],rangeAx[1],[0,2.5,5,7.5,10],1,'Risk score',9.5,5.5,6.6,false),bwAxis(rangeAy[0],rangeAy[1],[0,0.2,0.4,0.6],1,'RNAss',13.4,5.5,6.6,true),{show:true,borderColor:'#888',borderWidth:1,backgroundColor:'#fff'});
series.push({type:'scatter',xAxisIndex:gA,yAxisIndex:gA,symbolSize:3.4,itemStyle:{color:'#000'},silent:true,data:rnaPoints});
series.push(polygonSeries(gA,rnaBand,'rgba(150,150,150,0.55)',{z:3}));
series.push({type:'line',xAxisIndex:gA,yAxisIndex:gA,showSymbol:false,silent:true,z:4,lineStyle:{color:'#3366ff',width:1.6},data:rnaFit});
text(173,211,'{i|R} = \u2212 0.54, {i|p} < 0.001',{align:'center',font:'6.6px '+FONT,rich:{i:richI(6.6)}});
const gAt=addGrid([45.7,215.7,22.7,56],hidden({min:rangeAx[0],max:rangeAx[1]}),hidden({min:0,max:1}));
series.push({type:'line',xAxisIndex:gAt,yAxisIndex:gAt,showSymbol:false,silent:true,lineStyle:{color:'#444',width:0.8},areaStyle:{color:'#ffa500',opacity:1},data:rnaTopDensity});
const gAr=addGrid([217.3,251,57.3,222.3],hidden({min:0,max:1}),hidden({min:rangeAy[0],max:rangeAy[1]}));
series.push(polygonSeries(gAr,rnaSideDensity,'#0000ff'));
series.push({type:'line',xAxisIndex:gAr,yAxisIndex:gAr,showSymbol:false,silent:true,lineStyle:{color:'#555',width:0.8},data:[[0,0.0],[0,0.695]]});

const boxC=[524.3,736.7,30.7,222.3];
const gC=addGrid(boxC,bwAxis(-0.537,14.28,[0,5,10],0,'Risk score',9.5,6.6,7.1,false),bwAxis(-0.133,2.83,[0,1,2],0,'Tumor Burden Mutation',11.3,6.6,7.4,true),{show:true,borderColor:'#888',borderWidth:1,backgroundColor:'#fff'});
series.push({type:'scatter',xAxisIndex:gC,yAxisIndex:gC,symbolSize:3.4,itemStyle:{color:'#1a6fe8'},silent:true,data:clusterA});
series.push({type:'scatter',xAxisIndex:gC,yAxisIndex:gC,symbolSize:3.4,itemStyle:{color:'#ffa500'},silent:true,z:3,data:clusterB});
series.push(polygonSeries(gC,tmbBand,'rgba(140,140,140,0.45)',{z:4}));
series.push({type:'line',xAxisIndex:gC,yAxisIndex:gC,showSymbol:false,silent:true,z:5,lineStyle:{color:'#3366ff',width:1.5},data:tmbFit});
text(691,209,'{i|R} = 0.56, {i|p} < 0.001',{align:'center',font:'7.3px '+FONT,rich:{i:richI(7.3)}});
gfx.push({type:'rect',silent:true,z:49,shape:{x:693.7,y:34,width:39.3,height:32.3},style:{fill:'#c9ffff',stroke:'#777',lineWidth:0.8}});
text(713.3,38.5,'geneCluster',{font:'7.3px '+FONT,align:'center'});
[['A','#1a6fe8',50.3],['B','#ffa500',62.3]].forEach(([t,col,y])=>{
 gfx.push({type:'circle',silent:true,z:50,shape:{cx:699,cy:y,r:1.6},style:{fill:col}});
 text(710,y,t,{font:'6.5px '+FONT});
});

/* ---------- ONCOPLOTS ---------- */
const M_KEYS=Object.keys(mutationTypes);
function cellRender(op){return (params,api)=>{
 const a=api.coord([api.value(0),api.value(2)]),b=api.coord([api.value(1),api.value(2)]);
 const h=api.size([0,1])[1]-1;
 return {type:'rect',shape:{x:a[0],y:a[1]-h/2,width:Math.max(b[0]-a[0],0.6),height:h},style:{fill:mutationTypes[M_KEYS[api.value(3)]],opacity:op}};
};}
function oncoplot(o){
 const [l,r]=o.x;
 const gi=addGrid([l,r,289.5,416.9],hidden({min:0,max:o.n}),
  {type:'category',inverse:true,data:o.genes,axisLine:{show:false,onZero:false},axisTick:{show:false},splitLine:{show:false},
   axisLabel:{show:true,interval:0,fontStyle:'italic',fontFamily:FONT,fontSize:5.2,color:INK,margin:2.5}});
 yAxes[gi].show=true;
 const bg=addGrid([l,r,289.5,416.9],hidden({min:0,max:o.n}),
  {type:'category',position:'right',inverse:true,data:o.pct,axisLine:{show:false,onZero:false},axisTick:{show:false},
   axisLabel:{show:true,interval:0,fontFamily:FONT,fontSize:5.2,color:INK,margin:1.5}});
 const items=[];
 o.genes.forEach((g,row)=>series.push({type:'custom',xAxisIndex:gi,yAxisIndex:gi,silent:true,z:1,encode:{x:[0,1],y:2},renderItem:(params,api)=>{
   const a=api.coord([0,row]),b=api.coord([o.n,row]),h=api.size([0,1])[1]-1;
   return {type:'rect',shape:{x:a[0],y:a[1]-h/2,width:b[0]-a[0],height:h},style:{fill:'#d2d2d2'}};},data:[[0,o.n,row]]}));
 o.span.forEach(s=>items.push([s[1],s[2],s[0],M_KEYS.indexOf(s[3])]));
 o.mut.forEach(([row,start,str])=>[...str].forEach((ch,k)=>items.push([start+k*o.stripe,start+(k+1)*o.stripe,row,M_KEYS.indexOf(ch)])));
 series.push({type:'custom',xAxisIndex:gi,yAxisIndex:gi,silent:true,z:2,encode:{x:[0,1],y:2},renderItem:cellRender(0.85),data:items});

 // side bars
 const sb=addGrid([o.side[0],o.side[1],289.5,416.9],
  {type:'value',position:'top',offset:2.6,min:0,max:o.sideMax,splitLine:{show:false},
   axisLine:{show:true,onZero:false,lineStyle:{color:'#333',width:0.5}},axisTick:{show:true,length:-1.5,customValues:[0,o.sideMax],lineStyle:{color:'#333',width:0.5}},
   axisLabel:{customValues:[0,o.sideMax],color:INK,fontFamily:FONT,fontSize:4,margin:4.5},
   name:'No. of samples',nameMoveOverlap:false,nameLocation:'middle',nameGap:0.8,nameTextStyle:{fontFamily:FONT,fontSize:3.6,color:INK}},
  {type:'category',inverse:true,show:false,data:o.genes});
 const bars=[];
 o.sideBars.forEach(r=>{let c=0;for(let k=1;k<r.length;k+=2){bars.push([c,c+r[k+1],r[0],M_KEYS.indexOf(r[k])]);c+=r[k+1];}});
 series.push({type:'custom',xAxisIndex:sb,yAxisIndex:sb,silent:true,encode:{x:[0,1],y:2},renderItem:cellRender(1),data:bars});

 // mutation burden bars
 const tb=addGrid([l,r,257.3,286.7],{type:'category',show:false,data:o.base.map((_,k)=>k)},
  {type:'value',min:0,max:o.tmbMax,offset:3,splitLine:{show:false},axisLine:{show:true,onZero:false,lineStyle:{color:'#333',width:0.6}},
   axisTick:{show:true,length:1.5,customValues:[0,o.tmbMax],lineStyle:{color:'#333',width:0.5}},
   axisLabel:{customValues:[0,o.tmbMax],color:INK,fontFamily:FONT,fontSize:4,margin:1},
   name:'TMB',nameMoveOverlap:false,nameLocation:'middle',nameGap:o.tmbGap,nameRotate:90,nameTextStyle:{fontFamily:FONT,fontSize:4,color:INK}});
 [[o.base,'#2f9e2a'],[o.top,'#a8dca0'],[o.tip,'#f4a58a']].forEach(([d,col])=>series.push({type:'bar',xAxisIndex:tb,yAxisIndex:tb,stack:'tmb'+tb,barWidth:'100%',barCategoryGap:0,silent:true,itemStyle:{color:col},data:d}));

 // risk strip
 const rb=addGrid([l,r,419,430],hidden({min:0,max:o.n}),hidden({min:0,max:1}));
 series.push({type:'custom',xAxisIndex:rb,yAxisIndex:rb,silent:true,encode:{x:[0,1],y:2},data:[[0,o.n,0.5]],renderItem:(params,api)=>{
  const a=api.coord([0,1]),b=api.coord([o.n,0]);return {type:'rect',shape:{x:a[0],y:a[1],width:b[0]-a[0],height:b[1]-a[1]},style:{fill:o.riskColor}};}});
 text(r+2.6,424.5,'Risk',{font:'5.2px '+FONT});
 text(o.titleX,249,o.title,{font:'bold 6.3px '+FONT,align:'center',fill:'#111'});
 o.legend.forEach(([mx,tx,y,key,lab])=>{
  gfx.push({type:'rect',silent:true,z:50,shape:{x:mx-1,y:y-1,width:2,height:2},style:{fill:mutationTypes[key]||key}});
  text(tx,y,lab,{font:'5.2px '+FONT});
 });
 text(o.riskLeg[0],436,'Risk',{font:'5.2px '+FONT});
 [['#ff0000',443.7,'high'],['#0000ff',449.7,'low']].forEach(([c,y,t])=>{
  gfx.push({type:'rect',silent:true,z:50,shape:{x:o.riskLeg[1]-1,y:y-1,width:2,height:2},style:{fill:c}});
  text(o.riskLeg[2],y,t,{font:'5.2px '+FONT});
 });
}
oncoplot({x:[48,189.3],n:372,stripe:3,genes:genesD,pct:pctD,span:spanD,mut:mutD,side:[204,245],sideMax:341,sideBars:sideD,
 base:tmbBaseD,top:tmbTopD,tip:tmbTipD,tmbMax:88,tmbGap:8,riskColor:'#0000ff',titleX:136,title:'Altered in 362 (97.31%) of 372 samples.',
 riskLeg:[147,151.7,155.7],
 legend:[[30,34.3,436,'M','Missense_Mutation'],[30,34.3,442,'F','Frame_Shift_Del'],[30,34.3,448,'N','Nonsense_Mutation'],[30,34.3,454,'I','In_Frame_Del'],[86.7,90,436,'P','Frame_Shift_Ins'],[86.7,90,442,'S','Splice_Site'],[86.7,90,448,'K','Multi_Hit']]});
oncoplot({x:[289.3,430.3],n:280,stripe:2,genes:genesE,pct:pctE,span:spanE,mut:mutE,side:[445.7,487.3],sideMax:103,sideBars:sideE,
 base:tmbBaseE,top:tmbTopE,tip:tmbTipE,tmbMax:11181,tmbGap:7.5,riskColor:'#ff0000',titleX:377.3,title:'Altered in 247 (88.21%) of 280 samples.',
 riskLeg:[397.7,402.3,406.7],
 legend:[[271,275.3,436,'M','Missense_Mutation'],[271,275.3,442,'S','Splice_Site'],[271,275.3,448,'P','Frame_Shift_Ins'],[271,275.3,454,'F','Frame_Shift_Del'],[271,275.3,460,'N','Nonsense_Mutation'],[331.7,336,436,'I','In_Frame_Del'],[331.7,336,442,'T','Translation_Start_Site'],[331.7,336,448,'R','In_Frame_Ins'],[331.7,336,454,'K','Multi_Hit']]});

const chart=echarts.init(document.getElementById('c'),null,{renderer:'canvas'});
chart.setOption({animation:false,backgroundColor:'#fff',tooltip:{show:false},grid:grids,xAxis:xAxes,yAxis:yAxes,series,graphic:{elements:gfx}});
</script></body></html>
